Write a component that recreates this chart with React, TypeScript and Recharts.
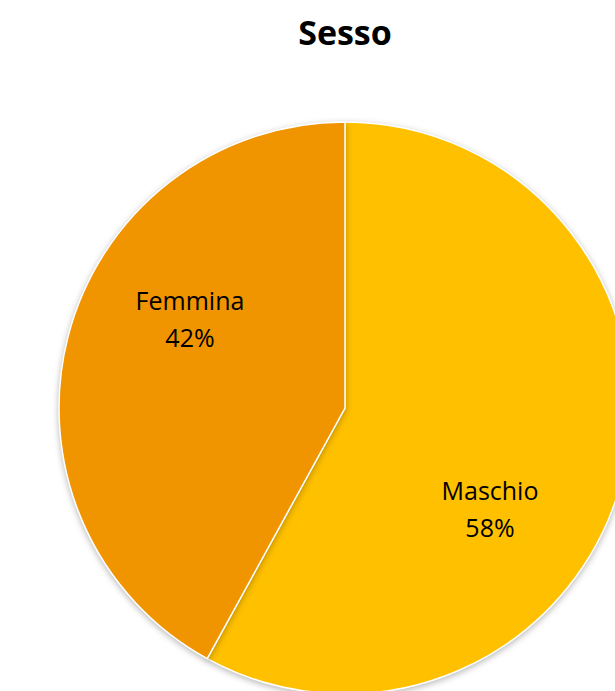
import React from "react";
import { PieChart, Pie, Cell } from "recharts";

const categories = ["Maschio", "Femmina"];
const values = [58, 42];
const colors = ["#FFC000", "#F09400"];

const data = categories.map((name, i) => ({ name, value: values[i] }));

// label placement as fractions of outer radius (relative to pie center)
const labelFx = [0.507, -0.542];
const labelFy = [0.35, -0.315];

const renderLabel = (props: any) => {
  const { cx, cy, outerRadius, index, name, percent } = props;
  const x = cx + labelFx[index] * outerRadius;
  const y = cy + labelFy[index] * outerRadius;
  return (
    <text
      x={x}
      y={y}
      textAnchor="middle"
      fill="#000"
      fontFamily="'Open Sans', sans-serif"
      fontSize={25}
    >
      <tspan x={x} dy={-8}>{name}</tspan>
      <tspan x={x} dy={37}>{`${Math.round(percent * 100)}%`}</tspan>
    </text>
  );
};

export default function App() {
  return (
    <div style={{ position: "absolute", left: 0, top: 0, width: 615, height: 691, background: "#fff", overflow: "hidden" }}>
      <style>{`.recharts-pie-sector { filter: drop-shadow(0px 2px 3px rgba(0,0,0,0.28)); }`}</style>
      <div
        style={{
          position: "absolute",
          left: 0,
          top: 10,
          width: 690,
          textAlign: "center",
          fontFamily: "'Open Sans', sans-serif",
          fontWeight: 700,
          fontSize: 34,
          color: "#000",
          lineHeight: "44px",
        }}
      >
        Sesso
      </div>
      <PieChart width={615} height={691} margin={{ top: 0, right: 0, bottom: 0, left: 0 }}>
        <Pie
          data={data}
          dataKey="value"
          nameKey="name"
          cx={345}
          cy={408}
          outerRadius={286}
          startAngle={90}
          endAngle={-270}
          stroke="#ffffff"
          strokeWidth={1.5}
          label={renderLabel}
          labelLine={false}
          isAnimationActive={false}
        >
          {data.map((d, i) => (
            <Cell key={d.name} fill={colors[i]} />
          ))}
        </Pie>
      </PieChart>
    </div>
  );
}
